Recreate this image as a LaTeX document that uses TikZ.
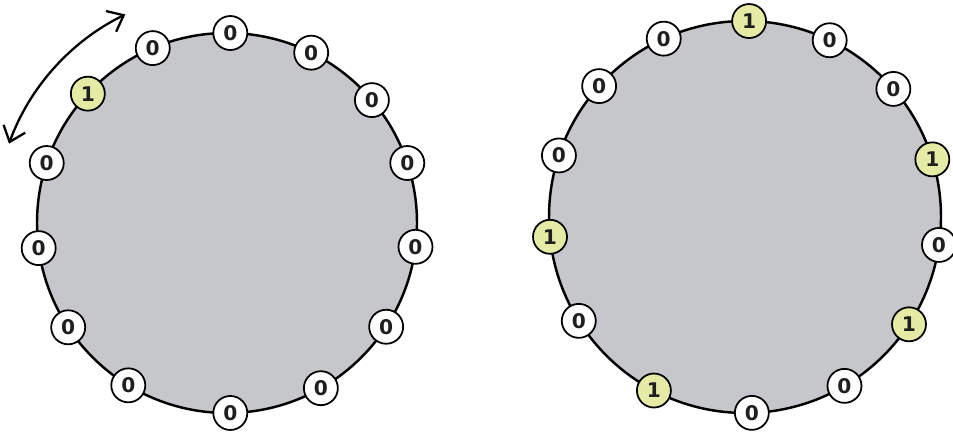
\documentclass[tikz,border=0pt]{standalone}
\usepackage{fontspec}
\setmainfont{DejaVu Sans}
\usetikzlibrary{arrows.meta}

\definecolor{discgray}{RGB}{198,199,202}
\colorlet{bitfill0}{white}
\definecolor{bitfill1}{RGB}{229,235,165}

\tikzset{
  disc/.style={fill=discgray, draw=black, line width=1.4pt},
  bit/.style={circle, draw=black, line width=1pt, minimum size=0.68cm, inner sep=0pt,
    text=black!88, font=\fontsize{11.5}{12}\selectfont\bfseries},
  swing/.style={line width=1.3pt, {Straight Barb[length=2.8mm, width=4.6mm]}-{Straight Barb[length=2.8mm, width=4.6mm]}}
}

\begin{document}
\begin{tikzpicture}[x=0.02cm, y=0.02cm]
    \useasboundingbox (0,0) rectangle (953,432);

    % left ring, one 1
    \begin{scope}[shift={(227,209)}]
        \draw[disc] (0,0) circle (190);
        \foreach \a/\v [count=\i] in {89/0,63.7/0,40.3/0,18.4/0,-7.2/0,-33.1/0,-60.4/0,-89/0,
                                      -121.3/0,-146.7/0,-172.4/0,161.6/0,137.1/1,113/0}
            \node[bit, fill=bitfill\v] (L\i) at (\a:190) {\v};
        \coordinate (swingA) at (160:232);
        \draw[swing] (swingA) arc[start angle=160, end angle=116, radius=232];
    \end{scope}

    % right ring, five 1s
    \begin{scope}[shift={(745,215)}]
        \draw[disc] (0,0) circle (196);
        \foreach \a/\v [count=\i] in {88.8/1,64.4/0,40.8/0,17.1/1,-8.2/0,-33.2/1,-59.5/0,-88/0,
                                      -117.7/1,-148/0,-174.2/1,161.7/0,138.1/0,114.5/0}
            \node[bit, fill=bitfill\v] (R\i) at (\a:196) {\v};
    \end{scope}
\end{tikzpicture}
\end{document}
